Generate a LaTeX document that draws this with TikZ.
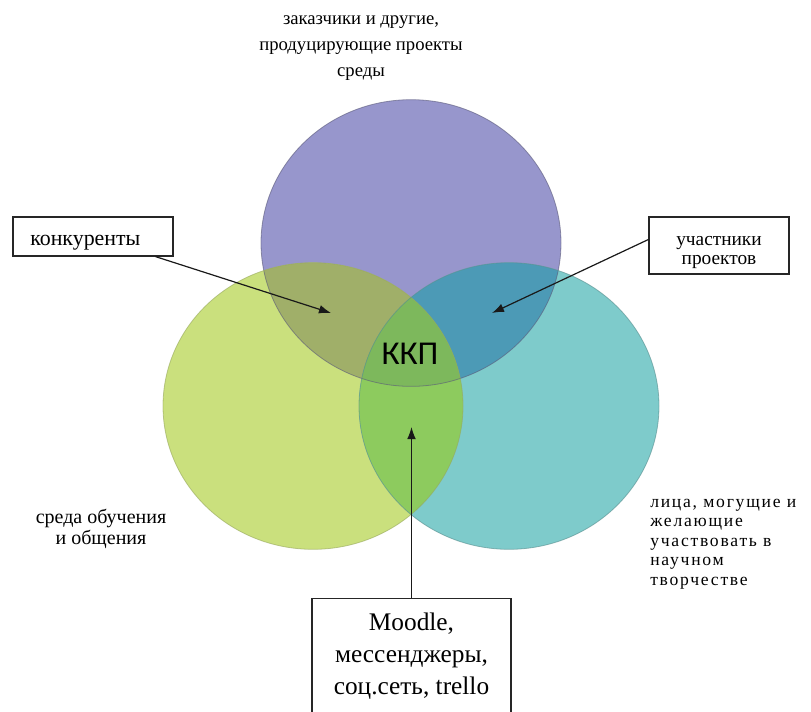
\documentclass[tikz,border=0pt]{standalone}
\usepackage{fontspec}
\setmainfont{Liberation Serif}
\newfontfamily\kkpfont{Carlito}
\newfontfamily\widefont[LetterSpace=10]{Liberation Serif}
\usetikzlibrary{positioning,arrows.meta}
\definecolor{topblue}{HTML}{9796CC}
\definecolor{leftgreen}{HTML}{CAE07D}
\definecolor{rightteal}{HTML}{7ECBCB}
\definecolor{tlmix}{HTML}{A0AF69}
\definecolor{trmix}{HTML}{4C9AB6}
\definecolor{lrmix}{HTML}{8DCB5E}
\definecolor{allmix}{HTML}{7DB85C}
\tikzset{disc/.style={x radius=112.5pt, y radius=107.5pt},
        rim/.style={line width=0.6pt, draw opacity=0.6},
        labelbox/.style={draw=black!85, line width=0.9pt, align=center, inner sep=2pt},
        pointer/.style={-{Latex[length=9pt,width=6.5pt]}, line width=0.9pt, black!90},
        plain/.style={align=center, inner sep=0pt, font=\fontsize{14}{19.5}\selectfont}}

\begin{document}
\begin{tikzpicture}[x=0.75pt, y=-0.75pt]
  \useasboundingbox (0,0) rectangle (811,711);
  \clip (0,0) rectangle (811,711);
  \coordinate (ctop) at (411,243);
  \coordinate (cleft) at (313,406);
  \coordinate (cright) at (509,406);
  % circles
  \fill[topblue] (ctop) ellipse[disc];
  \fill[leftgreen] (cleft) ellipse[disc];
  \fill[rightteal] (cright) ellipse[disc];
  \begin{scope}
    \clip (ctop) ellipse[disc];
    \fill[tlmix] (cleft) ellipse[disc];
    \fill[trmix] (cright) ellipse[disc];
  \end{scope}
  \begin{scope}
    \clip (cleft) ellipse[disc];
    \fill[lrmix] (cright) ellipse[disc];
    \clip (cright) ellipse[disc];
    \fill[allmix] (ctop) ellipse[disc];
  \end{scope}
  \draw[rim, topblue!60!black] (ctop) ellipse[disc];
  \draw[rim, leftgreen!75!black] (cleft) ellipse[disc];
  \draw[rim, rightteal!70!black] (cright) ellipse[disc];
  \node[font=\kkpfont\fontsize{25}{30}\selectfont, inner sep=0pt] (kkp) at (410,354) {ККП};
  % labels
  \node[plain] (clients) at (361,48) {заказчики и другие,\\продуцирующие проекты\\среды};
  \node[plain, font=\fontsize{15}{15.75}\selectfont] (learning) at (101,529) {среда обучения\\и общения};
  \node[plain, align=left, anchor=west, font=\widefont\fontsize{13.2}{14.6}\selectfont] (people) at (650,544)
    {лица, могущие и\\желающие\\участвовать в\\научном\\творчестве};
  \node[labelbox, align=left, inner xsep=13pt, text width=94pt, minimum height=29.25pt,
        text height=16.6pt, text depth=3.1pt, font=\fontsize{16.4}{17}\selectfont] (rivals) at (93,236.5) {конкуренты};
  \node[labelbox, minimum width=105pt, minimum height=42.75pt, font=\fontsize{14.5}{14.5}\selectfont] (members) at (719,245.5)
    {\rule{0pt}{17.5pt}участники\\проектов};
  \node[labelbox, anchor=north, minimum width=149.25pt, inner ysep=10.5pt, text depth=40pt,
        font=\fontsize{19}{24}\selectfont] (tools) at (411.5,598) {Moodle,\\мессенджеры,\\соц.сеть, trello};
  % arrows
  \coordinate (tlzone) at (331,313);
  \coordinate (trzone) at (492,313);
  \coordinate (lrzone) at (411.5,427);
  \draw[pointer] (rivals) -- (tlzone);
  \draw[pointer] ([yshift=4.5pt]members.west) -- (trzone);
  \draw[pointer] (tools.north) -- (lrzone);
\end{tikzpicture}
\end{document}
